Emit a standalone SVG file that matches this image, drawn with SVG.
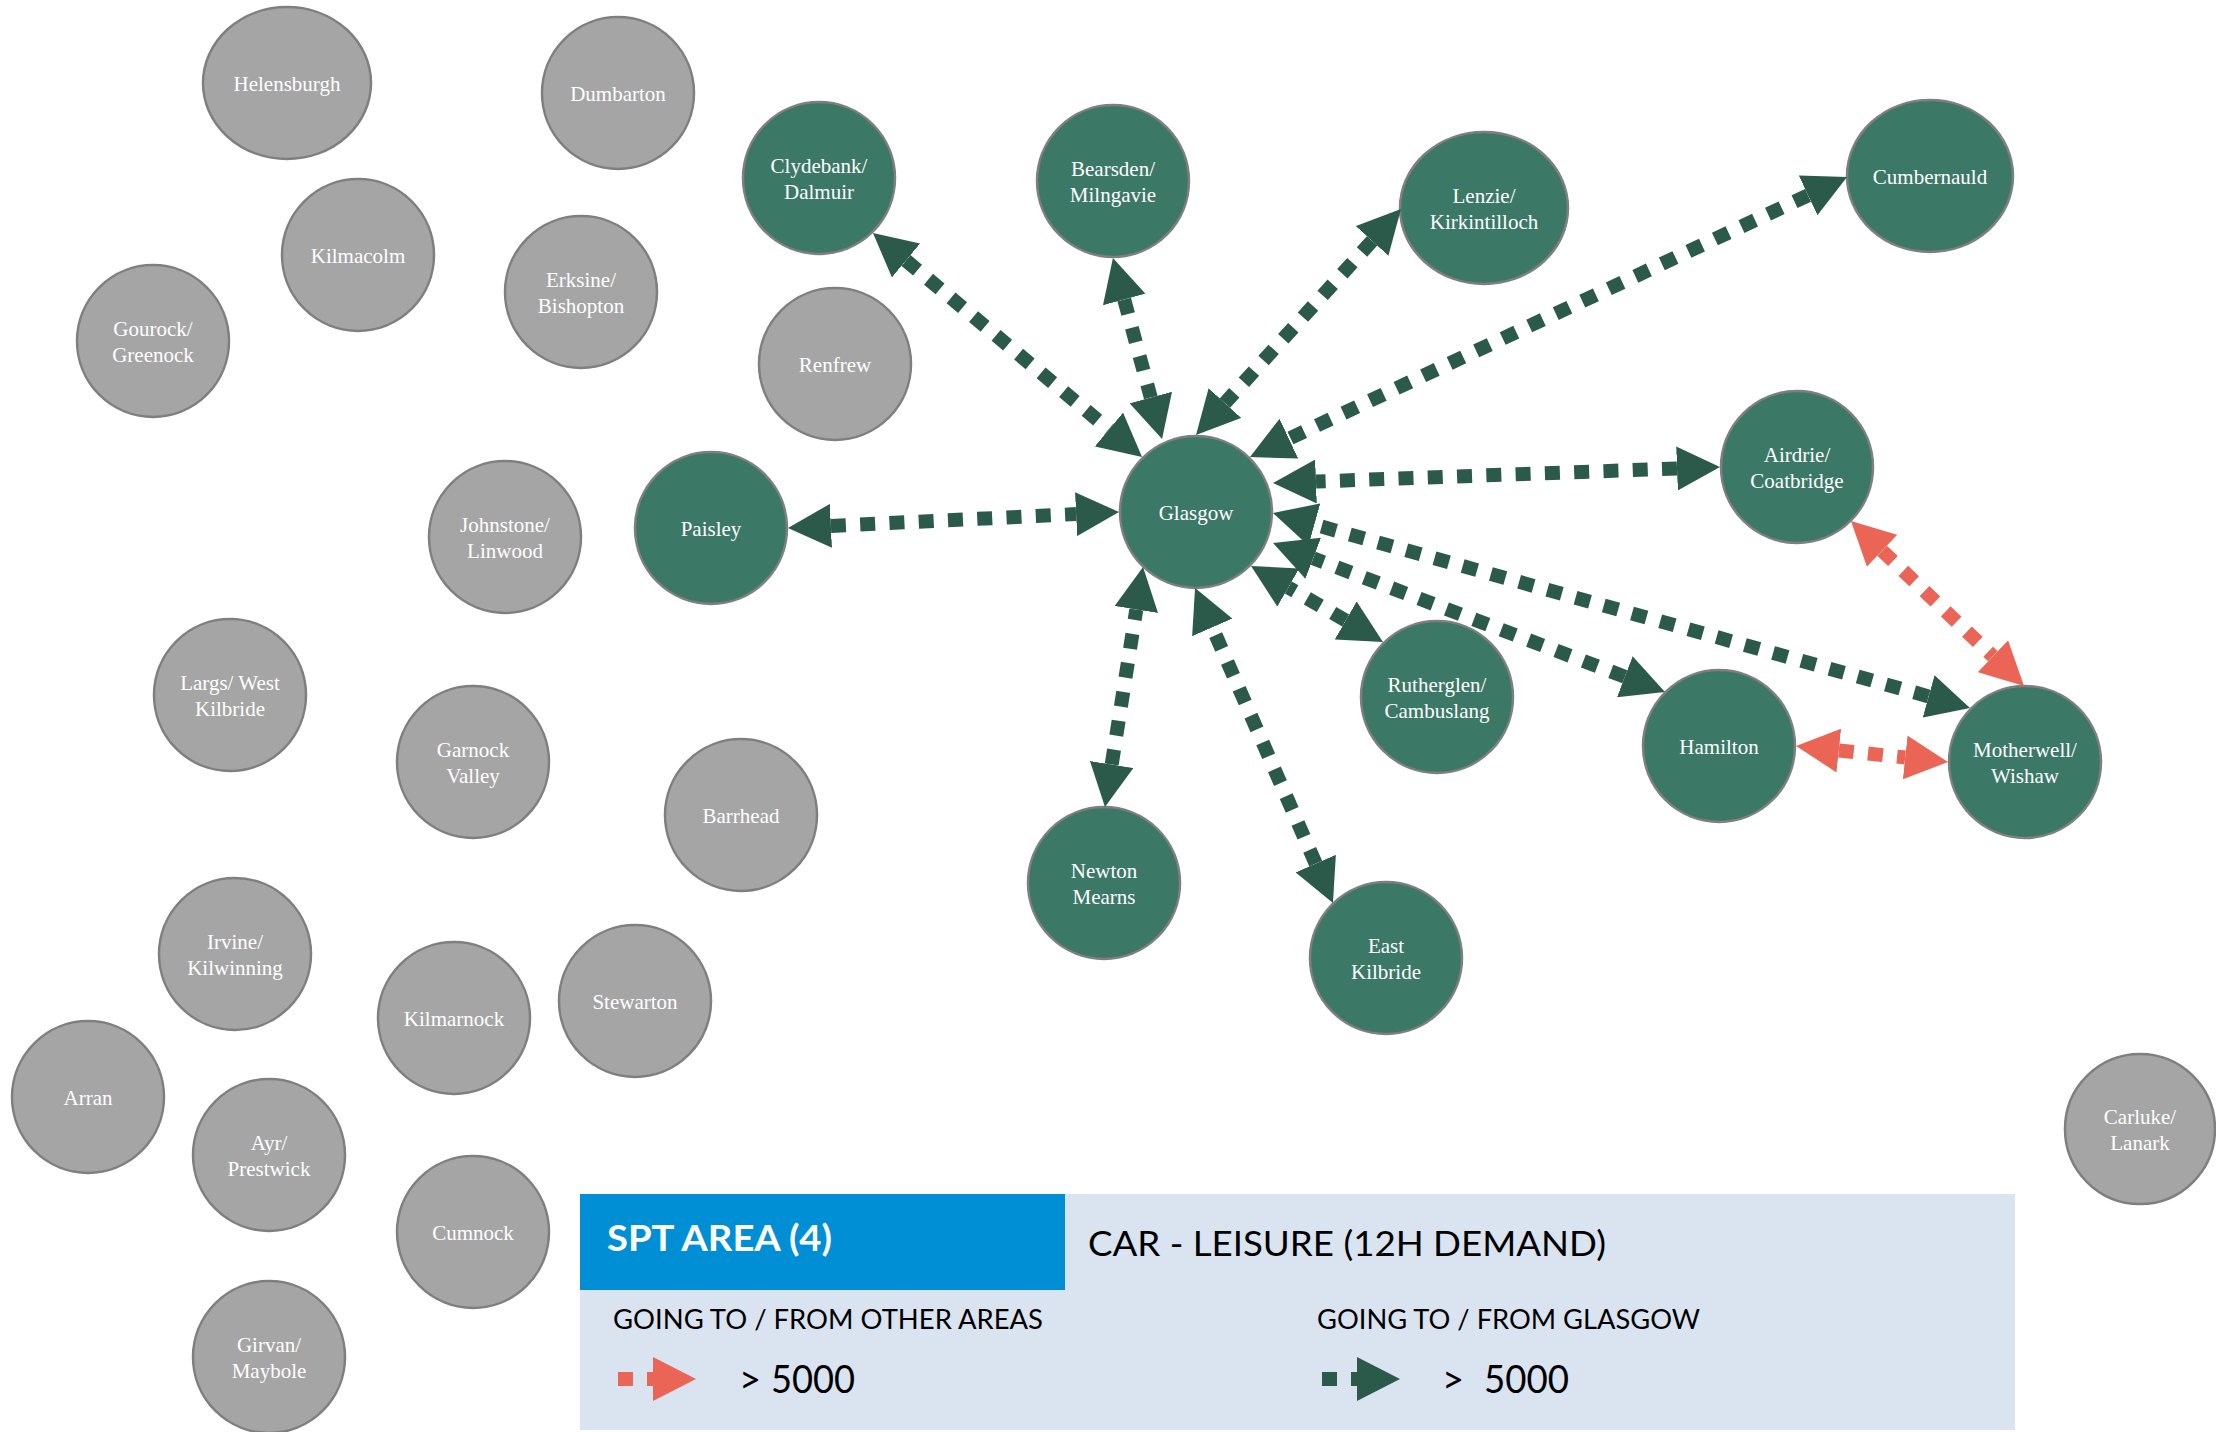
<svg xmlns="http://www.w3.org/2000/svg" width="2216" height="1432" viewBox="0 0 2216 1432">
<style>
.gn{fill:#3B7866;stroke:#7F7F7F;stroke-width:2.5}
.gr{fill:#A5A5A5;stroke:#7F7F7F;stroke-width:2.5}
.lbl{font-family:"Liberation Serif","Times New Roman",serif;font-size:21px;fill:#FFFFFF;text-anchor:middle}
.cg{stroke:#2B5A4B;stroke-width:14;stroke-dasharray:15 14.3;fill:none;marker-start:url(#ag);marker-end:url(#ag)}
.cr{stroke:#EB6556;stroke-width:14;stroke-dasharray:15 14.3;fill:none;marker-start:url(#ar);marker-end:url(#ar)}
.lg{font-family:Lato,"Open Sans","Liberation Sans",sans-serif;fill:#000000}
</style>
<defs>
<marker id="ag" markerUnits="userSpaceOnUse" viewBox="0 0 43 44" markerWidth="43" markerHeight="44" refX="0" refY="22" orient="auto-start-reverse"><path d="M0,0 L43,22 L0,44 z" fill="#2B5A4B"/></marker>
<marker id="ar" markerUnits="userSpaceOnUse" viewBox="0 0 43 44" markerWidth="43" markerHeight="44" refX="0" refY="22" orient="auto-start-reverse"><path d="M0,0 L43,22 L0,44 z" fill="#EB6556"/></marker>
<marker id="agl" markerUnits="userSpaceOnUse" viewBox="0 0 43 44" markerWidth="43" markerHeight="44" refX="0" refY="22" orient="auto"><path d="M0,0 L43,22 L0,44 z" fill="#2B5A4B"/></marker>
<marker id="arl" markerUnits="userSpaceOnUse" viewBox="0 0 43 44" markerWidth="43" markerHeight="44" refX="0" refY="22" orient="auto"><path d="M0,0 L43,22 L0,44 z" fill="#EB6556"/></marker>
</defs>
<rect width="2216" height="1432" fill="#FFFFFF"/>

<g id="n-helensburgh"><ellipse class="gr" cx="287" cy="83" rx="84" ry="76"/><text class="lbl" x="287" y="90.5">Helensburgh</text></g>
<g id="n-dumbarton"><circle class="gr" cx="618" cy="93" r="76"/><text class="lbl" x="618" y="100.5">Dumbarton</text></g>
<g id="n-kilmacolm"><circle class="gr" cx="358" cy="255" r="76"/><text class="lbl" x="358" y="262.5">Kilmacolm</text></g>
<g id="n-erksine"><circle class="gr" cx="581" cy="292" r="76"/><text class="lbl"><tspan x="581" y="287">Erksine/</tspan><tspan x="581" y="313">Bishopton</tspan></text></g>
<g id="n-gourock"><circle class="gr" cx="153" cy="341" r="76"/><text class="lbl"><tspan x="153" y="336">Gourock/</tspan><tspan x="153" y="362">Greenock</tspan></text></g>
<g id="n-renfrew"><circle class="gr" cx="835" cy="364" r="76"/><text class="lbl" x="835" y="371.5">Renfrew</text></g>
<g id="n-johnstone"><circle class="gr" cx="505" cy="537" r="76"/><text class="lbl"><tspan x="505" y="532">Johnstone/</tspan><tspan x="505" y="558">Linwood</tspan></text></g>
<g id="n-largs"><circle class="gr" cx="230" cy="695" r="76"/><text class="lbl"><tspan x="230" y="690">Largs/ West</tspan><tspan x="230" y="716">Kilbride</tspan></text></g>
<g id="n-garnock"><circle class="gr" cx="473" cy="762" r="76"/><text class="lbl"><tspan x="473" y="757">Garnock</tspan><tspan x="473" y="783">Valley</tspan></text></g>
<g id="n-barrhead"><circle class="gr" cx="741" cy="815" r="76"/><text class="lbl" x="741" y="822.5">Barrhead</text></g>
<g id="n-irvine"><circle class="gr" cx="235" cy="954" r="76"/><text class="lbl"><tspan x="235" y="949">Irvine/</tspan><tspan x="235" y="975">Kilwinning</tspan></text></g>
<g id="n-kilmarnock"><circle class="gr" cx="454" cy="1018" r="76"/><text class="lbl" x="454" y="1025.5">Kilmarnock</text></g>
<g id="n-stewarton"><circle class="gr" cx="635" cy="1001" r="76"/><text class="lbl" x="635" y="1008.5">Stewarton</text></g>
<g id="n-arran"><circle class="gr" cx="88" cy="1097" r="76"/><text class="lbl" x="88" y="1104.5">Arran</text></g>
<g id="n-ayr"><circle class="gr" cx="269" cy="1155" r="76"/><text class="lbl"><tspan x="269" y="1150">Ayr/</tspan><tspan x="269" y="1176">Prestwick</tspan></text></g>
<g id="n-cumnock"><circle class="gr" cx="473" cy="1232" r="76"/><text class="lbl" x="473" y="1239.5">Cumnock</text></g>
<g id="n-girvan"><circle class="gr" cx="269" cy="1357" r="76"/><text class="lbl"><tspan x="269" y="1352">Girvan/</tspan><tspan x="269" y="1378">Maybole</tspan></text></g>
<g id="n-carluke"><circle class="gr" cx="2140" cy="1129" r="75"/><text class="lbl"><tspan x="2140" y="1124">Carluke/</tspan><tspan x="2140" y="1150">Lanark</tspan></text></g>

<g id="n-clydebank"><circle class="gn" cx="819" cy="178" r="76"/><text class="lbl"><tspan x="819" y="173">Clydebank/</tspan><tspan x="819" y="199">Dalmuir</tspan></text></g>
<g id="n-bearsden"><circle class="gn" cx="1113" cy="181" r="76"/><text class="lbl"><tspan x="1113" y="176">Bearsden/</tspan><tspan x="1113" y="202">Milngavie</tspan></text></g>
<g id="n-lenzie"><ellipse class="gn" cx="1484" cy="208" rx="84" ry="76"/><text class="lbl"><tspan x="1484" y="203">Lenzie/</tspan><tspan x="1484" y="229">Kirkintilloch</tspan></text></g>
<g id="n-cumbernauld"><ellipse class="gn" cx="1930" cy="176" rx="83" ry="76"/><text class="lbl" x="1930" y="183.5">Cumbernauld</text></g>
<g id="n-paisley"><circle class="gn" cx="711" cy="528" r="76"/><text class="lbl" x="711" y="535.5">Paisley</text></g>
<g id="n-glasgow"><circle class="gn" cx="1196" cy="512" r="76"/><text class="lbl" x="1196" y="519.5">Glasgow</text></g>
<g id="n-airdrie"><circle class="gn" cx="1797" cy="467" r="76"/><text class="lbl"><tspan x="1797" y="462">Airdrie/</tspan><tspan x="1797" y="488">Coatbridge</tspan></text></g>
<g id="n-rutherglen"><circle class="gn" cx="1437" cy="697" r="76"/><text class="lbl"><tspan x="1437" y="692">Rutherglen/</tspan><tspan x="1437" y="718">Cambuslang</tspan></text></g>
<g id="n-hamilton"><circle class="gn" cx="1719" cy="746" r="76"/><text class="lbl" x="1719" y="753.5">Hamilton</text></g>
<g id="n-motherwell"><circle class="gn" cx="2025" cy="762" r="76"/><text class="lbl"><tspan x="2025" y="757">Motherwell/</tspan><tspan x="2025" y="783">Wishaw</tspan></text></g>
<g id="n-newtonmearns"><circle class="gn" cx="1104" cy="883" r="76"/><text class="lbl"><tspan x="1104" y="878">Newton</tspan><tspan x="1104" y="904">Mearns</tspan></text></g>
<g id="n-eastkilbride"><circle class="gn" cx="1386" cy="958" r="76"/><text class="lbl"><tspan x="1386" y="953">East</tspan><tspan x="1386" y="979">Kilbride</tspan></text></g>

<g id="connectors">
<line class="cg" x1="906" y1="260.5" x2="1109" y2="429.5"/>
<line class="cg" x1="1124.2" y1="299.5" x2="1150.8" y2="397.5"/>
<line class="cg" x1="1372.1" y1="240.9" x2="1224.9" y2="403.1"/>
<line class="cg" x1="1808.1" y1="195.3" x2="1288.9" y2="438.7"/>
<line class="cg" x1="1677" y1="468.5" x2="1316" y2="481.5"/>
<line class="cg" x1="830.9" y1="525.9" x2="1076.1" y2="514.1"/>
<line class="cg" x1="1345.7" y1="620.5" x2="1288.3" y2="587.5"/>
<line class="cg" x1="1624.8" y1="676.7" x2="1313.2" y2="558.3"/>
<line class="cg" x1="1928.6" y1="696.4" x2="1314.4" y2="524.6"/>
<line class="cg" x1="1111.7" y1="764.5" x2="1136.3" y2="609.5"/>
<line class="cg" x1="1315.7" y1="863.6" x2="1212.3" y2="627.4"/>
<line class="cr" x1="1882.1" y1="550.7" x2="1992.9" y2="656.3"/>
<line class="cr" x1="1838.8" y1="750.5" x2="1905.2" y2="757.5"/>
</g>

<g id="legend">
<rect x="580" y="1194" width="1435" height="236" fill="#DAE3F0"/>
<rect x="580" y="1194" width="485" height="96" fill="#008FD5"/>
<text x="607" y="1251" font-family="Lato,'Open Sans','Liberation Sans',sans-serif" font-weight="bold" font-size="37" fill="#FFFFFF" textLength="225" lengthAdjust="spacingAndGlyphs">SPT AREA (4)</text>
<text class="lg" x="1088" y="1256" font-size="35" textLength="518" lengthAdjust="spacingAndGlyphs">CAR - LEISURE (12H DEMAND)</text>
<text class="lg" x="613" y="1329" font-size="27" textLength="430" lengthAdjust="spacingAndGlyphs">GOING TO / FROM OTHER AREAS</text>
<text class="lg" x="1317" y="1329" font-size="27" textLength="383" lengthAdjust="spacingAndGlyphs">GOING TO / FROM GLASGOW</text>
<line x1="618" y1="1379" x2="653" y2="1379" stroke="#EB6556" stroke-width="14" stroke-dasharray="15 14" marker-end="url(#arl)"/>
<text class="lg" font-size="38"><tspan x="739" y="1393">&gt;</tspan><tspan x="771" y="1393" textLength="84" lengthAdjust="spacingAndGlyphs">5000</tspan></text>
<line x1="1322" y1="1379" x2="1357" y2="1379" stroke="#2B5A4B" stroke-width="14" stroke-dasharray="15 14" marker-end="url(#agl)"/>
<text class="lg" font-size="38"><tspan x="1442" y="1393">&gt;</tspan><tspan x="1484" y="1393" textLength="85" lengthAdjust="spacingAndGlyphs">5000</tspan></text>
</g>
</svg>
